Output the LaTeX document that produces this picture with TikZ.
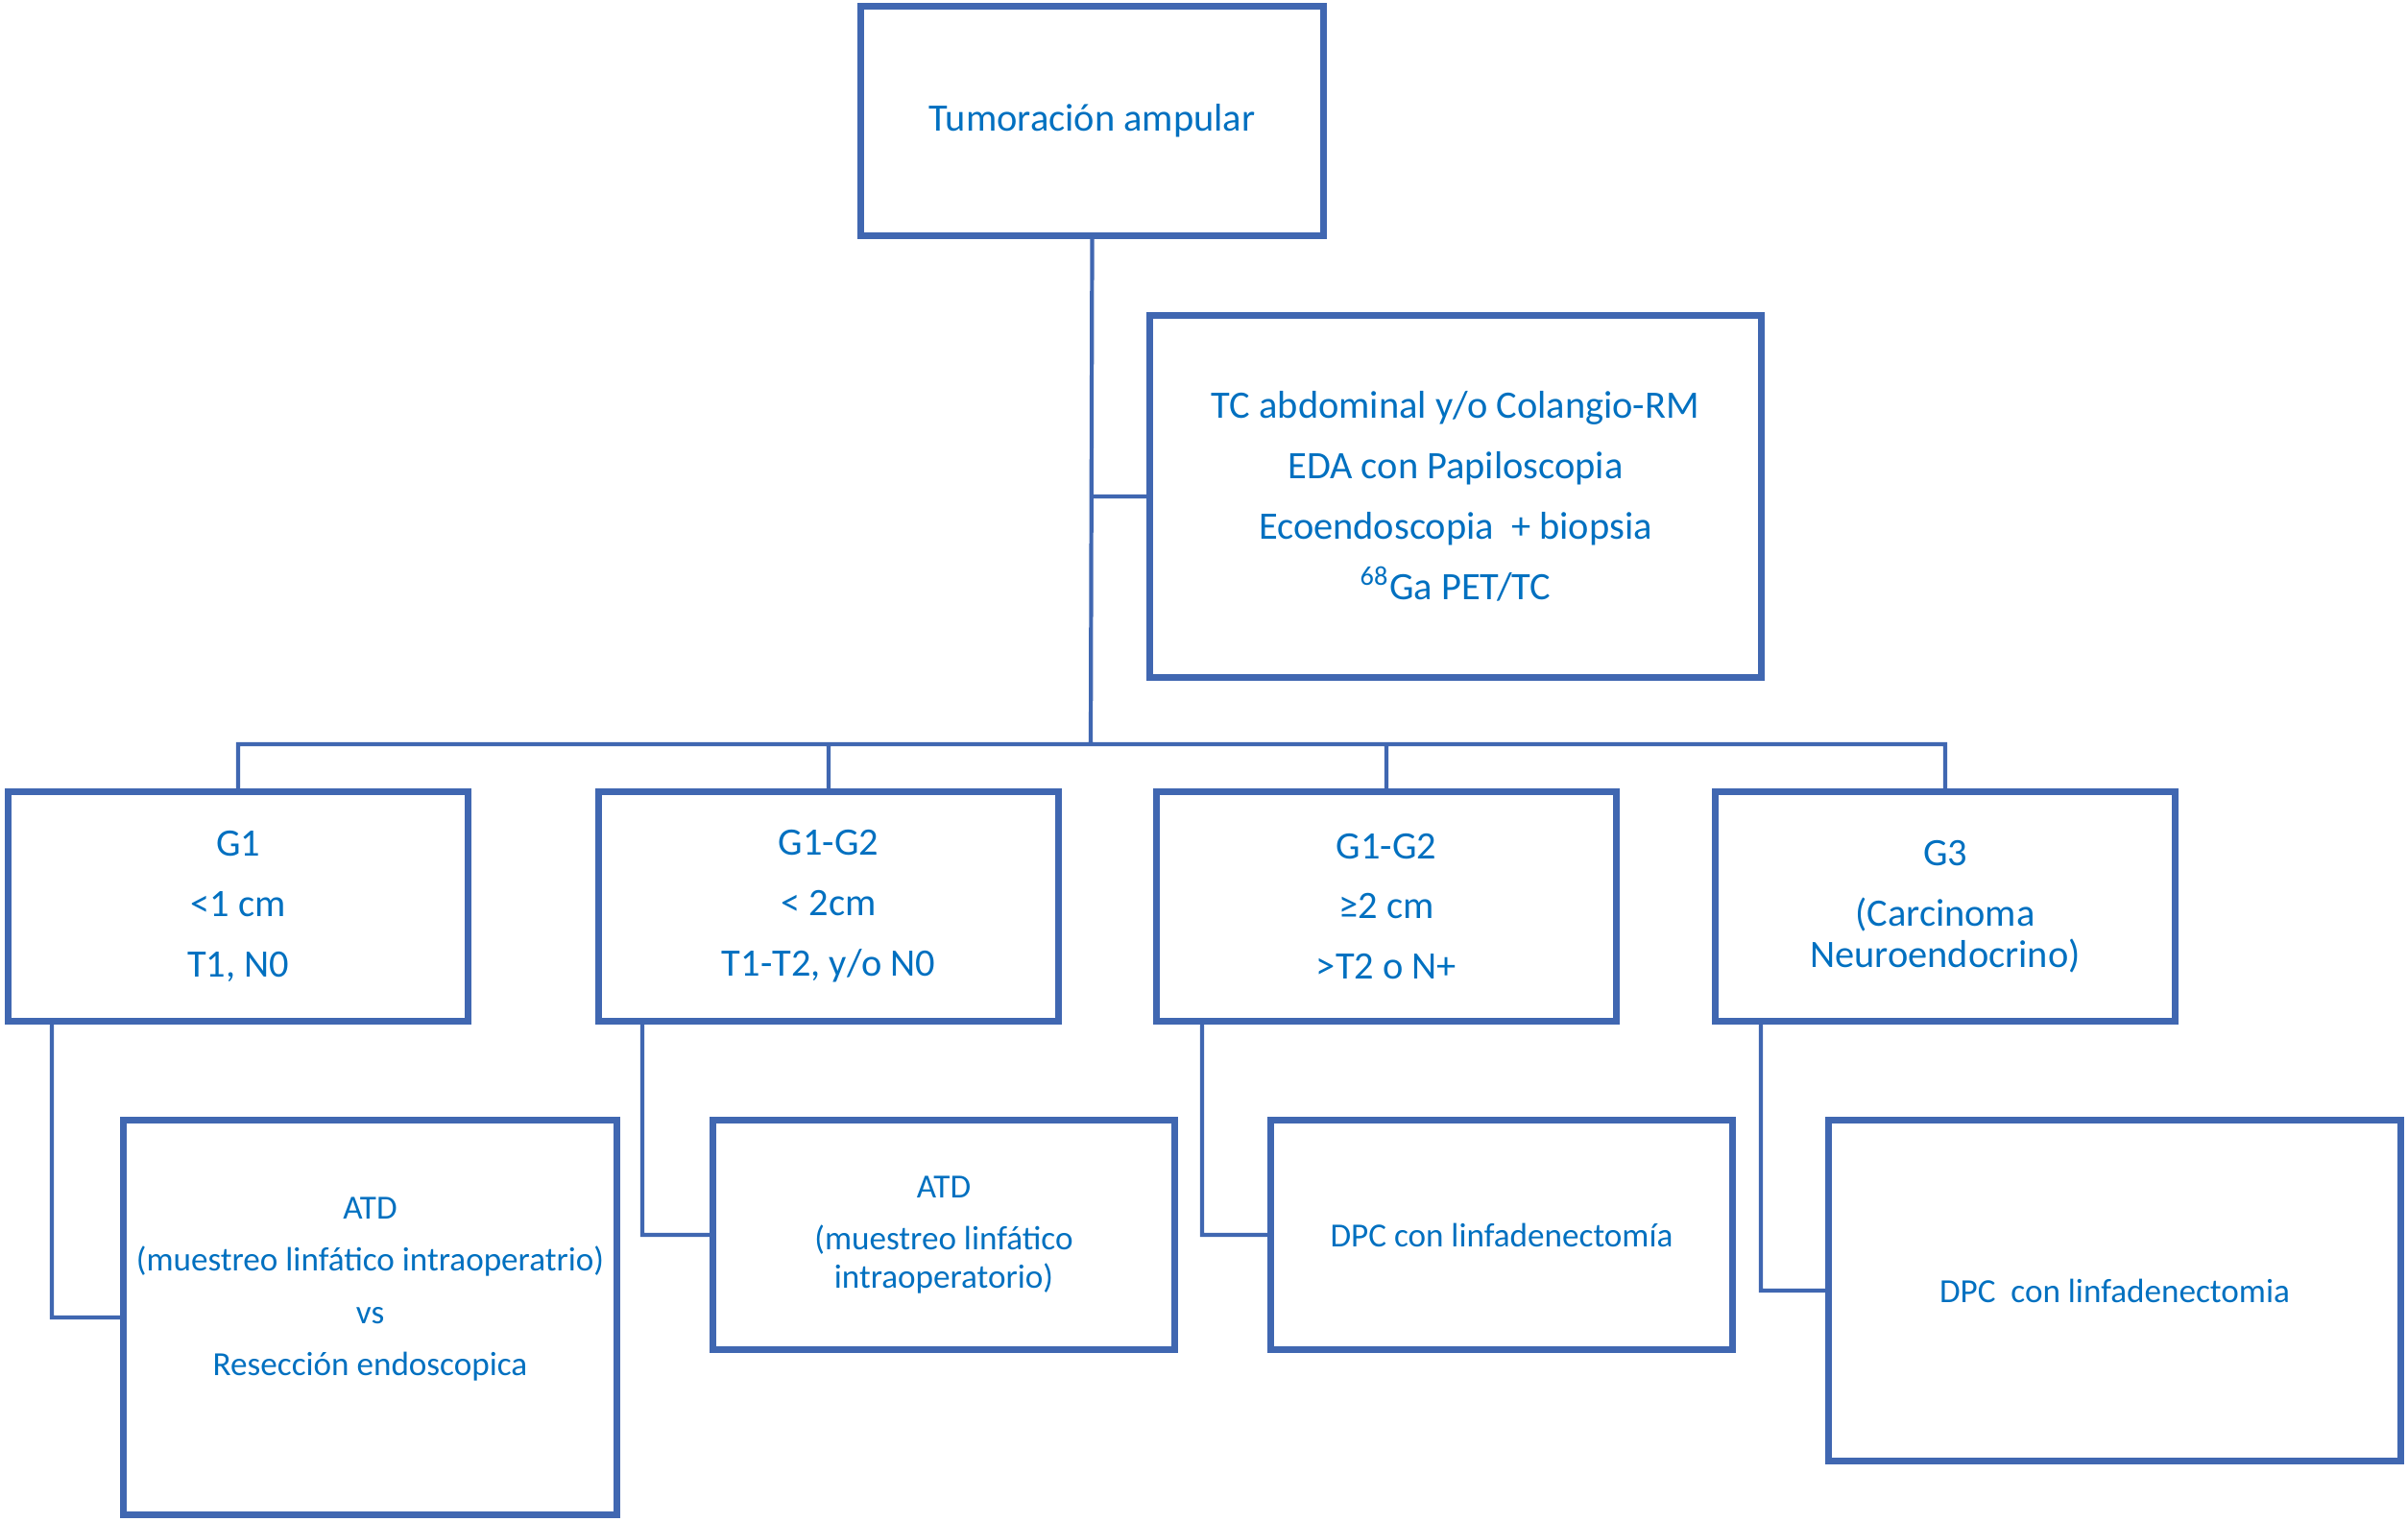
\documentclass[tikz,border=0pt]{standalone}
\usepackage{fontspec}
\setmainfont{Carlito}

\definecolor{boxblue}{RGB}{64,103,177}
\definecolor{textblue}{RGB}{0,112,192}

\tikzset{
  caja/.style={draw=boxblue, line width=2pt, text=textblue, align=center, inner sep=2pt,
    font=\fontsize{11.5}{17.9}\selectfont},
  cajab/.style={caja, font=\fontsize{10}{15.5}\selectfont},
  linea/.style={draw=boxblue, line width=1.2pt}
}

\begin{document}
\begin{tikzpicture}
          \useasboundingbox (0,0) rectangle (25.08,-15.85);

          \node[caja, minimum width=4.82cm, minimum height=2.39cm] (tumor) at (11.375,-1.26) {Tumoración ampular};
          \node[caja, minimum width=6.37cm, minimum height=3.77cm] (estudio) at (15.16,-5.17)
            {TC abdominal y/o Colangio-RM\\EDA con Papiloscopia\\Ecoendoscopia \ + biopsia\\\textsuperscript{68}Ga PET/TC};
          \coordinate (bus) at (11.36,-7.75);

          \node[caja, minimum width=4.79cm, minimum height=2.39cm] (g1) at (2.48,-9.44) {G1\\<1 cm\\T1, N0};
          \node[caja, minimum width=4.79cm, minimum height=2.39cm] (g12a) at (8.63,-9.44) {G1-G2\\< 2cm\\T1-T2, y/o N0};
          \node[caja, minimum width=4.79cm, minimum height=2.39cm] (g12b) at (14.44,-9.44) {G1-G2\\≥2 cm\\>T2 o N+};
          \node[caja, minimum width=4.79cm, minimum height=2.39cm] (g3) at (20.26,-9.44) {G3\\(Carcinoma\\[-5.6pt]Neuroendocrino)};

          \node[cajab, minimum width=5.14cm, minimum height=4.11cm, text depth=18.5pt] (atd1) at (3.855,-13.72)
            {ATD\\(muestreo linfático intraoperatrio)\\vs\\Resección endoscopica};
          \node[cajab, minimum width=4.81cm, minimum height=2.39cm] (atd2) at (9.83,-12.86)
            {ATD\\(muestreo linfático\\[-4.1pt]intraoperatorio)};
          \node[cajab, minimum width=4.81cm, minimum height=2.39cm] (dpc1) at (15.64,-12.86) {DPC con linfadenectomía};
          \node[cajab, minimum width=5.96cm, minimum height=3.55cm] (dpc2) at (22.025,-13.44) {DPC \ con linfadenectomia};

          \draw[linea]
          (tumor.south) -- (bus)
          (tumor.south |- estudio.west) -- (estudio.west)
          (g1.north) |- (bus) -| (g3.north)
          (g12a.north) -- (g12a.north |- bus)
          (g12b.north) -- (g12b.north |- bus)
          ([xshift=4.9mm]g1.south west) |- (atd1.west)
          ([xshift=4.9mm]g12a.south west) |- (atd2.west)
          ([xshift=5.1mm]g12b.south west) |- (dpc1.west)
          ([xshift=5.1mm]g3.south west) |- (dpc2.west);
        \end{tikzpicture}
\end{document}
